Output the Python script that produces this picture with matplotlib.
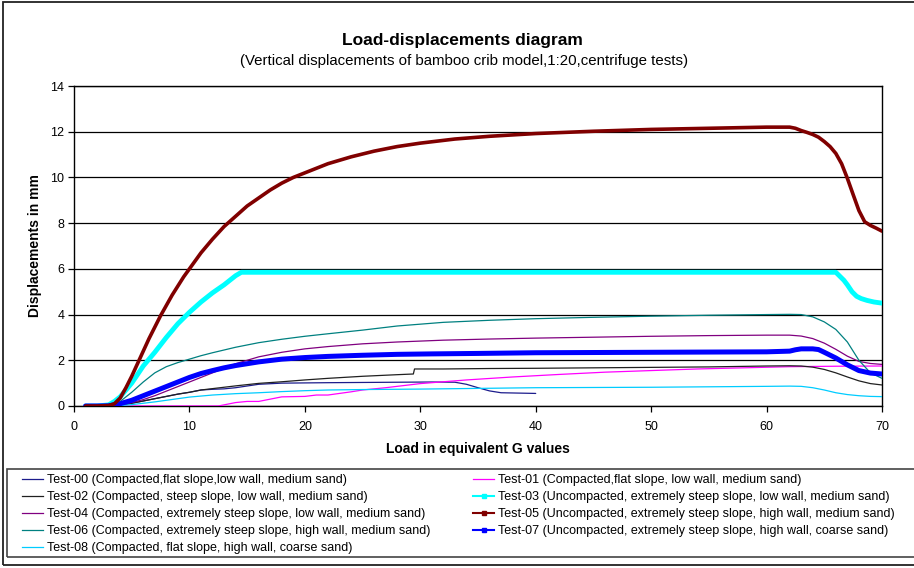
import matplotlib
matplotlib.use("Agg")
import matplotlib.pyplot as plt
from matplotlib.lines import Line2D
from matplotlib.patches import Rectangle

plt.rcParams['font.family'] = ['Liberation Sans', 'DejaVu Sans']

# ---- data: load (G) vs vertical displacement (mm) ----
g00 = [1, 2, 3, 4, 5, 6, 7, 8, 9, 10, 11, 12, 13, 14, 16, 18, 20, 22, 25, 28, 31, 33, 34, 35, 36, 37, 38, 40]
d00 = [0, 0, 0, 0.03, 0.12, 0.22, 0.32, 0.42, 0.52, 0.6, 0.7, 0.73, 0.75, 0.8, 0.95, 1.0, 1.01, 1.02, 1.03, 1.04, 1.05, 1.04, 0.95, 0.8, 0.66, 0.58, 0.57, 0.55]

g01 = [1, 5, 10, 12, 12.5, 13, 14, 15, 16, 17, 18, 20, 21, 22, 23, 24, 25, 26, 27, 28, 30, 32, 34, 38, 42, 46, 50, 54, 58, 62, 66, 70]
d01 = [0, 0, 0, 0, 0, 0.05, 0.15, 0.2, 0.2, 0.3, 0.4, 0.42, 0.48, 0.48, 0.55, 0.62, 0.7, 0.75, 0.8, 0.86, 0.98, 1.06, 1.14, 1.27, 1.38, 1.48, 1.55, 1.62, 1.67, 1.72, 1.74, 1.75]

g02 = [1, 2, 3, 4, 5, 6, 7, 8, 9, 10, 11, 12, 14, 16, 18, 20, 22, 25, 28, 29.4, 29.5, 32, 36, 40, 45, 50, 55, 60, 62, 63, 64, 65, 66, 67, 68, 69, 70]
d02 = [0, 0, 0, 0.03, 0.12, 0.22, 0.32, 0.42, 0.52, 0.6, 0.7, 0.76, 0.88, 0.99, 1.06, 1.14, 1.21, 1.3, 1.37, 1.4, 1.62, 1.62, 1.64, 1.65, 1.67, 1.69, 1.71, 1.75, 1.76, 1.75, 1.7, 1.6, 1.45, 1.27, 1.1, 0.98, 0.92]

g03 = [1, 2, 3, 3.5, 4, 5, 6, 7, 8, 9, 10, 11, 12, 13, 14, 14.5, 20, 30, 40, 50, 60, 66, 66.3, 66.7, 67, 67.4, 67.8, 68.2, 68.7, 69.3, 70]
d03 = [0, 0, 0.05, 0.2, 0.4, 1.0, 1.75, 2.35, 3.0, 3.6, 4.1, 4.55, 4.95, 5.3, 5.7, 5.85, 5.85, 5.85, 5.85, 5.85, 5.85, 5.85, 5.7, 5.5, 5.3, 5.0, 4.8, 4.7, 4.62, 4.55, 4.5]

g04 = [1, 2, 3, 4, 5, 6, 7, 8, 9, 10, 11, 12, 13, 14, 16, 18, 20, 22, 25, 28, 32, 36, 40, 45, 50, 55, 60, 62, 63, 64, 65, 66, 67, 68, 69, 70]
d04 = [0, 0, 0, 0.05, 0.15, 0.28, 0.45, 0.65, 0.85, 1.05, 1.25, 1.45, 1.65, 1.85, 2.15, 2.35, 2.5, 2.6, 2.72, 2.8, 2.88, 2.93, 2.97, 3.01, 3.05, 3.08, 3.1, 3.1, 3.06, 2.95, 2.75, 2.48, 2.18, 1.95, 1.86, 1.82]

g05 = [1, 2, 3, 3.5, 4, 4.5, 5, 5.5, 6, 6.5, 7, 7.5, 8, 8.5, 9, 9.5, 10, 11, 12, 13, 14, 15, 16, 17, 18, 19, 20, 22, 24, 26, 28, 30, 33, 36, 40, 45, 50, 55, 60, 62, 62.5, 63, 63.5, 64, 64.5, 65, 65.5, 66, 66.5, 67, 67.5, 68, 68.5, 69, 69.5, 70]
d05 = [0, 0, 0.02, 0.1, 0.35, 0.8, 1.3, 1.85, 2.4, 2.95, 3.45, 3.95, 4.4, 4.85, 5.25, 5.65, 6.0, 6.7, 7.3, 7.85, 8.3, 8.75, 9.1, 9.45, 9.75, 10.0, 10.2, 10.6, 10.9, 11.15, 11.35, 11.5, 11.68, 11.8, 11.92, 12.02, 12.1, 12.15, 12.2, 12.2, 12.15, 12.05, 11.97, 11.88, 11.76, 11.57, 11.35, 11.05, 10.6, 9.96, 9.25, 8.55, 8.06, 7.9, 7.78, 7.65]

g06 = [1, 2, 3, 4, 5, 6, 7, 8, 9, 10, 11, 12, 14, 16, 18, 20, 22, 25, 28, 32, 36, 40, 45, 50, 55, 60, 62, 63, 64, 65, 66, 67, 68, 69, 70]
d06 = [0, 0, 0.02, 0.2, 0.6, 1.05, 1.45, 1.72, 1.9, 2.05, 2.2, 2.33, 2.57, 2.77, 2.92, 3.05, 3.16, 3.32, 3.5, 3.66, 3.75, 3.82, 3.88, 3.93, 3.97, 4.0, 4.01, 4.0, 3.9, 3.68, 3.35, 2.8, 2.0, 1.45, 1.21]

g07 = [1, 2, 3, 4, 5, 6, 7, 8, 9, 10, 11, 12, 13, 14, 16, 18, 20, 22, 25, 28, 31, 35, 40, 45, 50, 55, 60, 62, 62.5, 63, 64, 64.5, 65, 66, 67, 68, 69, 70]
d07 = [0, 0, 0.01, 0.1, 0.25, 0.45, 0.65, 0.85, 1.05, 1.25, 1.42, 1.55, 1.67, 1.77, 1.93, 2.05, 2.12, 2.17, 2.22, 2.26, 2.28, 2.3, 2.33, 2.34, 2.35, 2.36, 2.37, 2.4, 2.46, 2.5, 2.5, 2.47, 2.35, 2.1, 1.8, 1.55, 1.44, 1.4]

g08 = [1, 2, 3, 4, 5, 6, 7, 8, 9, 10, 12, 14, 16, 18, 20, 22, 25, 30, 35, 40, 45, 50, 55, 60, 62, 63, 64, 65, 66, 67, 68, 69, 70]
d08 = [0, 0, 0, 0.02, 0.06, 0.12, 0.18, 0.25, 0.32, 0.39, 0.48, 0.54, 0.58, 0.63, 0.67, 0.7, 0.72, 0.74, 0.77, 0.8, 0.81, 0.82, 0.84, 0.86, 0.87, 0.86, 0.8, 0.7, 0.58, 0.5, 0.45, 0.42, 0.41]

labels = [
    "Test-00 (Compacted,flat slope,low wall, medium sand)",
    "Test-01 (Compacted,flat slope, low wall, medium sand)",
    "Test-02 (Compacted, steep slope, low wall, medium sand)",
    "Test-03 (Uncompacted, extremely steep slope, low wall, medium sand)",
    "Test-04 (Compacted, extremely steep slope, low wall, medium sand)",
    "Test-05 (Uncompacted, extremely steep slope, high wall, medium sand)",
    "Test-06 (Compacted, extremely steep slope, high wall, medium sand)",
    "Test-07 (Uncompacted, extremely steep slope, high wall, coarse sand)",
    "Test-08 (Compacted, flat slope, high wall, coarse sand)",
]

xs = [g00, g01, g02, g03, g04, g05, g06, g07, g08]
ys = [d00, d01, d02, d03, d04, d05, d06, d07, d08]
colors = ['#1c1c8c', '#ff00ff', '#202020', '#00ffff', '#800080',
          '#800000', '#008080', '#0000ff', '#00ccff']
widths = [0.9, 0.9, 0.9, 3.5, 0.9, 2.6, 0.9, 3.6, 0.9]
markers = [None, None, None, 's', None, 's', None, 's', None]
zorders = [3, 3, 3, 4, 3, 5, 3, 4, 3]

fig = plt.figure(figsize=(9.14, 5.68), dpi=100)
ax = fig.add_axes([74 / 914, 1 - 406 / 568, 808 / 914, 320 / 568])

handles = {}
for i in range(9):
    ax.plot(xs[i], ys[i], color=colors[i], lw=widths[i], zorder=zorders[i],
            solid_capstyle='round', solid_joinstyle='round')
    handles[i] = Line2D([], [], color=colors[i], lw=min(widths[i], 1.5),
                        marker=markers[i], markersize=3)

ax.set_xlim(0, 70)
ax.set_ylim(0, 14)
ax.set_xticks(range(0, 71, 10))
ax.set_yticks(range(0, 15, 2))
ax.yaxis.grid(True, color='black', lw=0.9)
ax.set_axisbelow(True)
for s in ax.spines.values():
    s.set_color('black')
    s.set_linewidth(1.0)
ax.tick_params(axis='both', direction='out', length=4, width=0.9,
               labelsize=9, colors='black', pad=3)
ax.tick_params(axis='x', pad=7)

ax.set_xlabel("Load in equivalent G values", fontsize=10, fontweight='bold', labelpad=6)
ax.set_ylabel("Displacements in mm", fontsize=10, fontweight='bold', labelpad=6)

fig.text(462 / 914, 1 - 40 / 568, "Load-displacements diagram", ha='center', va='center',
         fontsize=12.5, fontweight='bold')
fig.text(464 / 914, 1 - 61 / 568,
         "(Vertical displacements of bamboo crib model,1:20,centrifuge tests)",
         ha='center', va='center', fontsize=10.8)

# chart border and legend box
fig.add_artist(Rectangle((3 / 914, 1 - 565 / 568), 920 / 914, 563 / 568,
                         transform=fig.transFigure, fill=False, ec='#222222', lw=1.3))
fig.add_artist(Rectangle((7 / 914, 1 - 557 / 568), 915 / 914, 88 / 568,
                         transform=fig.transFigure, fill=False, ec='#444444', lw=1.2))

order = [0, 2, 4, 6, 8, 1, 3, 5, 7]
fig.legend([handles[i] for i in order], [labels[i] for i in order],
           loc='upper left', bbox_to_anchor=(22 / 914, 1 - 474 / 568),
           ncol=2, frameon=False, fontsize=9, handlelength=1.7, handletextpad=0.3,
           labelspacing=0.4, columnspacing=3.4, borderaxespad=0, borderpad=0)

fig.savefig("out.png", dpi=100)
